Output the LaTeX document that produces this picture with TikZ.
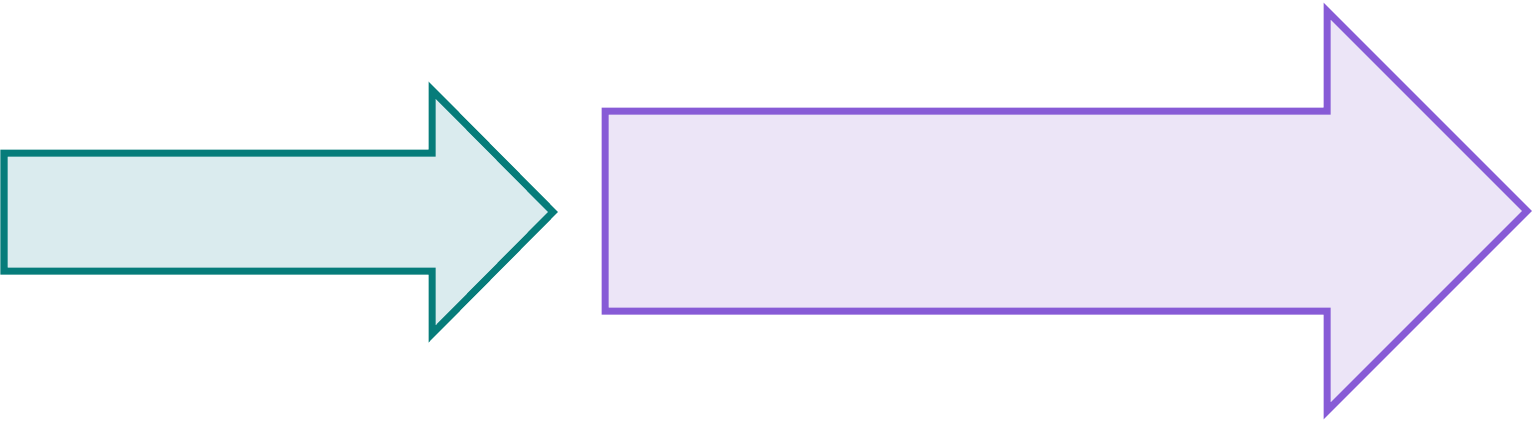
\documentclass[tikz,border=0pt]{standalone}
\usepackage{xcolor}
\definecolor{tealline}{HTML}{067C7A}
\definecolor{tealfill}{HTML}{DAEBEE}
\definecolor{violetline}{HTML}{875BD6}
\definecolor{violetfill}{HTML}{ECE5F7}
\begin{document}
\begin{tikzpicture}[x=1pt,y=-1pt,
  small arrow/.style={
  % The border:
  line width=7pt,
  draw=tealline,
  % The filling:
  fill=tealfill
  },
  big arrow/.style={
  line width=7pt,
  draw=violetline,
  fill=violetfill
  }]
  \useasboundingbox (0,0) rectangle (1533,423);
  % left arrow
  \draw[small arrow] (4,153) -- (432,153) -- (432,90) -- (553,212)
    -- (432,334) -- (432,271) -- (4,271) -- cycle;
  % right arrow
  \draw[big arrow] (605,111) -- (1327,111) -- (1327,11) -- (1527,211)
    -- (1327,411) -- (1327,311) -- (605,311) -- cycle;
\end{tikzpicture}
\end{document}
